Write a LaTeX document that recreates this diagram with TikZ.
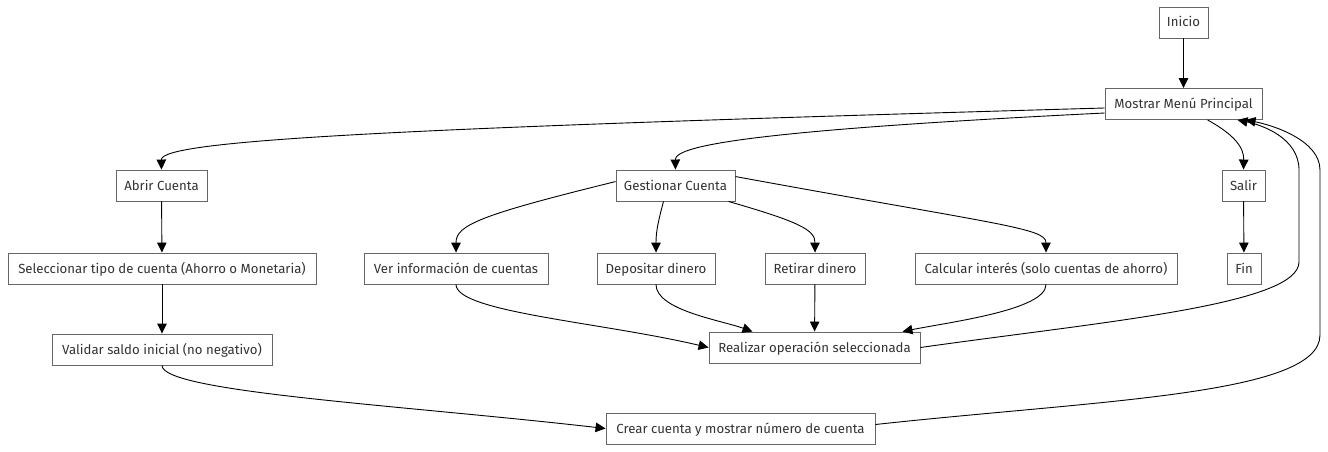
\documentclass[tikz,border=0pt]{standalone}
\usepackage{fontspec}
\setmainfont{Fira Sans}
\usetikzlibrary{arrows.meta}
\definecolor{boxline}{HTML}{666666}
\definecolor{txt}{HTML}{333333}
\tikzset{
  box/.style={draw=boxline, line width=0.9pt, fill=white, minimum height=31pt, inner xsep=0pt, inner ysep=0pt, text height=10pt, text depth=1pt, text=txt, font=\fontsize{13.2}{15}\selectfont},
  edge/.style={draw=black, line width=0.9pt, -{Triangle[length=10pt,width=9.5pt]}}
}
\begin{document}
\begin{tikzpicture}[x=1pt,y=-1pt]
\useasboundingbox (0,0) rectangle (1328,452);
\node[box, minimum width=49pt] (inicio) at (1183.5,22.5) {Inicio};
\node[box, minimum width=157pt] (menu) at (1183.5,104) {Mostrar Menú Principal};
\node[box, minimum width=91pt] (abrir) at (161.5,185.5) {Abrir Cuenta};
\node[box, minimum width=119pt] (gest) at (675.5,185.5) {Gestionar Cuenta};
\node[box, minimum width=43pt] (salir) at (1243.5,185.5) {Salir};
\node[box, minimum width=308pt] (sel) at (162,268.5) {Seleccionar tipo de cuenta (Ahorro o Monetaria)};
\node[box, minimum width=184pt] (ver) at (456,268.5) {Ver información de cuentas};
\node[box, minimum width=118pt] (dep) at (656,268.5) {Depositar dinero};
\node[box, minimum width=100pt] (ret) at (815,268.5) {Retirar dinero};
\node[box, minimum width=262pt] (calc) at (1046,268.5) {Calcular interés (solo cuentas de ahorro)};
\node[box, minimum width=34pt] (fin) at (1244,268.5) {Fin};
\node[box, minimum width=220pt] (val) at (162,349.5) {Validar saldo inicial (no negativo)};
\node[box, minimum width=211pt] (real) at (814.5,347.5) {Realizar operación seleccionada};
\node[box, minimum width=269pt] (crear) at (740.5,428.5) {Crear cuenta y mostrar número de cuenta};

\coordinate (c1) at (1299,170);
\coordinate (c2) at (1320,170);

\draw[edge] (inicio) -- (menu);
\draw[edge] ([yshift=-4pt]menu.west) .. controls (400,128) and (161,140) .. (abrir.north);
\draw[edge] ([yshift=-9pt]menu.west) .. controls (760,130) and (675,145) .. (gest.north);
\draw[edge] ([xshift=24pt]menu.south) .. controls (1235,135) and (1244,148) .. (salir.north);
\draw[edge] (abrir) -- (sel);
\draw[edge] (sel) -- (val);
\draw[edge] (salir) -- (fin);
\draw[edge] ([yshift=-12pt]gest.north west) .. controls (480,215) and (456,225) .. (ver.north);
\draw[edge] ([xshift=-12pt]gest.south) .. controls (658,222) and (656,232) .. (dep.north);
\draw[edge] ([xshift=-7pt]gest.south east) .. controls (800,222) and (815,230) .. (ret.north);
\draw[edge] ([yshift=-7pt]gest.north east) .. controls (1000,225) and (1046,228) .. (calc.north);
\draw[edge] (ver.south) .. controls (456,312) and (600,322) .. (real.west);
\draw[edge] (dep.south) .. controls (656,310) and (720,320) .. ([xshift=-62pt]real.north);
\draw[edge] (ret) -- (real);
\draw[edge] (calc.south) .. controls (1046,310) and (950,322) .. ([xshift=88pt]real.north);
\draw[edge] (val.south) .. controls (162,392) and (400,405) .. (crear.west);
\draw[edge] (real.east) .. controls (1100,322) and (1299,305) .. (1299,262) -- (c1) .. controls (1299,138) and (1262,125) .. ([xshift=54pt]menu.south);
\draw[edge] ([yshift=4pt]crear.east) .. controls (1100,400) and (1320,395) .. (1320,335) -- (c2) .. controls (1320,140) and (1272,125) .. ([xshift=62pt]menu.south);
\end{tikzpicture}
\end{document}
